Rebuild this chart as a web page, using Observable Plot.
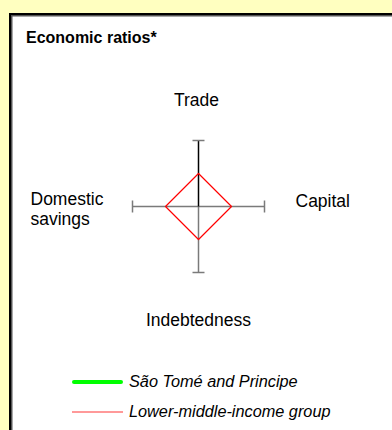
<!DOCTYPE html>
<html>
<head>
<meta charset="utf-8">
<script src="https://cdn.jsdelivr.net/npm/d3@7"></script>
<script src="https://cdn.jsdelivr.net/npm/@observablehq/plot@0.6"></script>
<style>
  html, body { margin: 0; padding: 0; }
  body { width: 392px; height: 430px; overflow: hidden; background: #FFFFC0; position: relative;
         font-family: "Liberation Sans", Arial, sans-serif; }
  #box { position: absolute; left: 9px; top: 13px; width: 420px; height: 450px; background: #fff;
         border-left: 2px solid #000; border-top: 2px solid #000; box-shadow: inset 1.5px 1.5px 0 #555; }
  #title { position: absolute; left: 26px; top: 28.5px; font-size: 16px; font-weight: bold; color: #000; white-space: nowrap; }
  #chart { position: absolute; left: 0; top: 0; }
  .leg { position: absolute; left: 129px; font-size: 16.3px; font-style: italic; color: #000; white-space: nowrap; }
  .sw { position: absolute; }
</style>
</head>
<body>
<div id="box"></div>
<div id="title"></div>
<div id="chart"></div>
<div id="legend"></div>
<script>
// ---- data ----
const title = "Economic ratios*";
const axes = ["Trade", "Capital", "Indebtedness", "Domestic savings"];
const saoTome = [null, null, null, null];          // no values shown
const lowerMiddle = [0.5, 0.5, 0.5, 0.5];
const seriesNames = ["São Tomé and Principe", "Lower-middle-income group"];
const seriesColors = ["#00FF00", "#FF9999"];

// ---- layout ----
const W = 392, H = 430, cx = 198, cy = 206, R = 66;
const n = axes.length;
const ang = i => (i / n) * 2 * Math.PI; // clockwise from top
const pos = (i, v) => ({x: v * Math.sin(ang(i)), y: v * Math.cos(ang(i))});

document.getElementById("title").textContent = title;

const spokes = axes.map((a, i) => {
  const p = pos(i, 1);
  return {axis: a, x1: 0, y1: 0, x2: p.x, y2: p.y};
});
const cap = 6 / R;
const caps = axes.map((a, i) => {
  const p = pos(i, 1), th = ang(i);
  const ux = Math.cos(th) * cap, uy = -Math.sin(th) * cap;
  return {axis: a, x1: p.x - ux, y1: p.y - uy, x2: p.x + ux, y2: p.y + uy};
});
// closed ring for a series polygon
const ring = vals => {
  const pts = vals.map((v, i) => v == null ? null : ({axis: axes[i], ...pos(i, v)})).filter(d => d);
  return pts.length ? [...pts, pts[0]] : [];
};
const poly = ring(lowerMiddle);
const stp = ring(saoTome);

// label placement (pixel offsets from centre, converted to data units)
const labelLayout = {
  "Trade":            {dx: -2,   dy: -100.3, anchor: "middle"},
  "Capital":          {dx: 97,   dy: 0,      anchor: "start"},
  "Indebtedness":     {dx: 0,    dy: 119,    anchor: "middle"},
  "Domestic savings": {dx: -168, dy: 18.5,   anchor: "start"}
};
const labels = axes.map(a => ({
  text: a === "Domestic savings" ? "Domestic\nsavings" : a,
  x: labelLayout[a].dx / R, y: -labelLayout[a].dy / R, anchor: labelLayout[a].anchor
}));

const font = "'Liberation Sans', Arial, sans-serif";
const plot = Plot.plot({
  width: W, height: H,
  margin: 0,
  style: {background: "transparent", fontFamily: font, overflow: "visible"},
  x: {domain: [-1, 1], range: [cx - R, cx + R], axis: null},
  y: {domain: [-1, 1], range: [cy + R, cy - R], axis: null},
  marks: [
    Plot.link(spokes.filter(d => d.axis !== "Trade"), {x1: "x1", y1: "y1", x2: "x2", y2: "y2", stroke: "#7a7a7a", strokeWidth: 1.5}),
    Plot.link(spokes.filter(d => d.axis === "Trade"), {x1: "x1", y1: "y1", x2: "x2", y2: "y2", stroke: "#000", strokeWidth: 1.5}),
    Plot.link(caps, {x1: "x1", y1: "y1", x2: "x2", y2: "y2", stroke: "#7a7a7a", strokeWidth: 1.5}),
    Plot.line(poly, {x: "x", y: "y", stroke: "#FF0000", strokeWidth: 1.2}),
    Plot.line(stp, {x: "x", y: "y", stroke: seriesColors[0], strokeWidth: 4}),
    ...["middle", "start"].map(an => Plot.text(labels.filter(d => d.anchor === an), {
      x: "x", y: "y", text: "text", textAnchor: an, lineAnchor: "bottom", lineHeight: 1.12,
      fontSize: 17.5, fill: "#000", fontFamily: font
    }))
  ]
});
document.getElementById("chart").appendChild(plot);

// legend
const legend = document.getElementById("legend");
const legTops = [372, 402];
const swTop = [380, 411];
const swH = [4, 2];
const swR = [2, 0];
seriesNames.forEach((name, i) => {
  const sw = document.createElement("div");
  sw.className = "sw";
  Object.assign(sw.style, {left: "72px", width: "51px", top: swTop[i] + "px", height: swH[i] + "px",
    background: seriesColors[i], borderRadius: swR[i] + "px"});
  legend.appendChild(sw);
  const t = document.createElement("div");
  t.className = "leg";
  t.style.top = legTops[i] + "px";
  t.textContent = name;
  legend.appendChild(t);
});
</script>
</body>
</html>
